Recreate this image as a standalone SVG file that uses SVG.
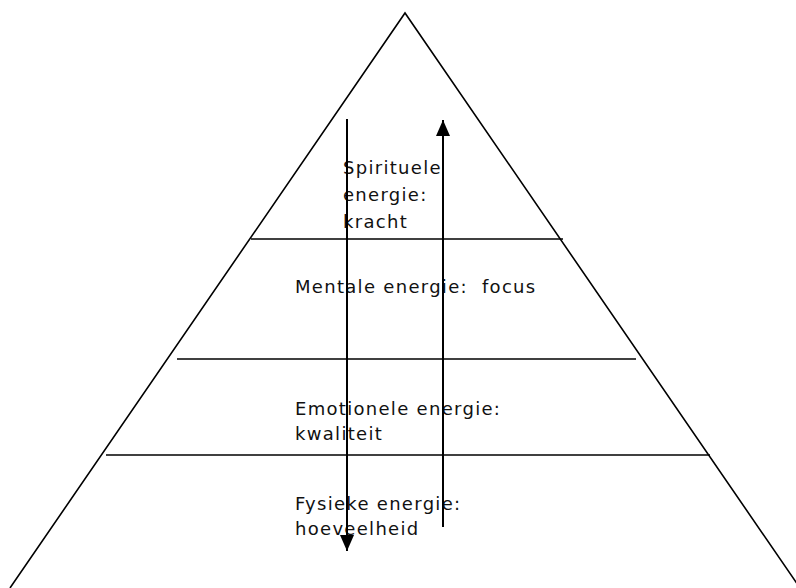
<svg xmlns="http://www.w3.org/2000/svg" width="796" height="588" viewBox="0 0 796 588">
<style>
.ln{stroke:#000;stroke-width:1.6;fill:none}
.ar{stroke:#000;stroke-width:2;fill:none}
.t{font-family:"DejaVu Sans",Verdana,sans-serif;font-size:18px;letter-spacing:1.3px;fill:#111}
</style>
<defs>
<marker id="ah" markerWidth="16" markerHeight="14" refX="16" refY="7" orient="auto" markerUnits="userSpaceOnUse" viewBox="0 0 16 14">
<path d="M0,0 L16,7 L0,14 Z" fill="#000"/>
</marker>
</defs>
<rect width="796" height="588" fill="#fff"/>
<g id="pyramid">
<polyline class="ln" points="10,588 405,13 800,588"/>
</g>
<g id="levels">
<line class="ln" x1="251" y1="239" x2="563" y2="239"/>
<line class="ln" x1="177" y1="359" x2="636" y2="359"/>
<line class="ln" x1="106" y1="455" x2="710" y2="455"/>
</g>
<g id="spiritueel">
<text class="t" x="343" y="174">Spirituele</text>
<text class="t" x="343" y="201">energie:</text>
<text class="t" x="343" y="228">kracht</text>
</g>
<g id="mentaal">
<text class="t" x="295" y="293" xml:space="preserve">Mentale energie:  focus</text>
</g>
<g id="emotioneel">
<text class="t" x="295" y="415">Emotionele energie:</text>
<text class="t" x="295" y="440">kwaliteit</text>
</g>
<g id="fysiek">
<text class="t" x="295" y="510">Fysieke energie:</text>
<text class="t" x="295" y="535">hoeveelheid</text>
</g>
<g id="connectors">
<line class="ar" x1="347" y1="119" x2="347" y2="551" marker-end="url(#ah)"/>
<line class="ar" x1="443" y1="527" x2="443" y2="120" marker-end="url(#ah)"/>
</g>
</svg>
